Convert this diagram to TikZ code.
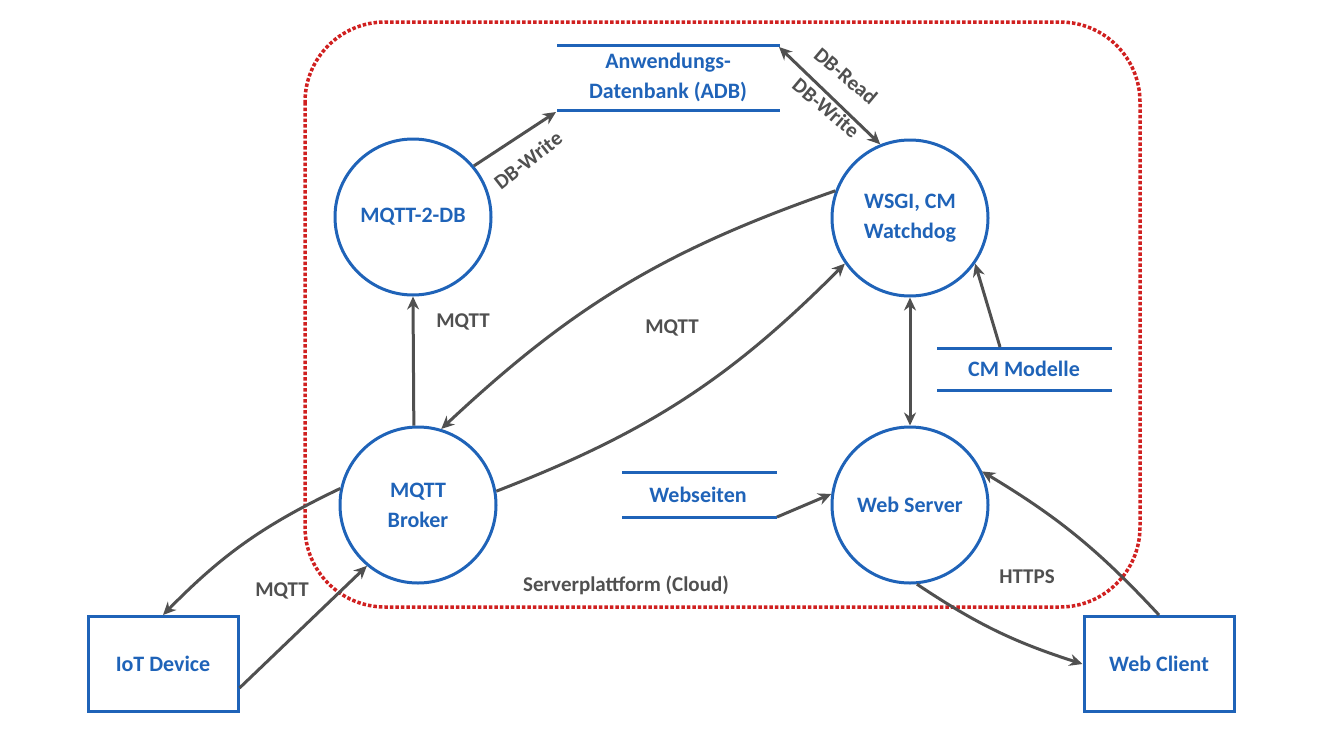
\documentclass[tikz,border=0pt]{standalone}
\usepackage{fontspec}
\setmainfont{Carlito}
\usetikzlibrary{arrows.meta}
\definecolor{bl}{HTML}{1F63B8}
\definecolor{gr}{HTML}{505050}
\definecolor{rd}{HTML}{D02020}
\begin{document}
\begin{tikzpicture}[x=1pt,y=-1pt,
  circ/.style={circle,draw=bl,line width=3pt,minimum size=156pt,inner sep=0pt,text=bl,font=\bfseries\fontsize{22}{30}\selectfont,align=center},
  rbox/.style={rectangle,draw=bl,line width=3pt,minimum width=150pt,minimum height=95pt,text=bl,font=\bfseries\fontsize{22}{26}\selectfont},
  store/.style={text=bl,font=\bfseries\fontsize{22}{30}\selectfont,align=center},
  sline/.style={draw=bl,line width=3pt},
  arr/.style={draw=gr,line width=3pt,-{Stealth[length=13pt,width=12pt]}},
  darr/.style={draw=gr,line width=3pt,{Stealth[length=13pt,width=12pt]}-{Stealth[length=13pt,width=12pt]}},
  lab/.style={text=gr,font=\bfseries\fontsize{21}{23}\selectfont}]
\useasboundingbox (0,0) rectangle (1320,742);
\draw[rd,line width=3.5pt,dotted,rounded corners=80pt] (305,22) rectangle (1140,607);
% stores
\draw[sline] (557,45) -- (780,45); \draw[sline] (557,110) -- (780,110);
\node[store] (adb) at (668,77) {Anwendungs-\\Datenbank (ADB)};
\draw[sline] (937,348) -- (1112,348); \draw[sline] (937,390) -- (1112,390);
\node[store] (cm) at (1024,369) {CM Modelle};
\draw[sline] (622,472) -- (777,472); \draw[sline] (622,517) -- (777,517);
\node[store] (ws) at (698,495) {Webseiten};
% nodes
\node[circ] (m2db) at (413,217) {MQTT-2-DB};
\node[circ] (wsgi) at (910,218) {WSGI, CM\\Watchdog};
\node[circ] (brk) at (418,505) {MQTT\\Broker};
\node[circ] (web) at (910,505) {Web Server};
\node[rbox] (iot) at (163,664) {IoT Device};
\node[rbox] (cli) at (1159,664) {Web Client};
\coordinate (adbbl) at (556,112);
\coordinate (adbtr) at (779,47);
\coordinate (cmt) at (1000,347);
\coordinate (wsr) at (777,517);
% arrows
\draw[arr] (m2db.40) -- (adbbl);
\draw[darr] (adbtr) -- (wsgi.112);
\draw[arr] (brk.93) -- (m2db.270);
\draw[arr] (wsgi.160) to[bend right=12] (brk.73);
\draw[arr] (brk.10) to[bend right=12] (wsgi.215);
\draw[darr] (wsgi.270) -- (web.90);
\draw[arr] (cmt) -- (wsgi.-35);
\draw[arr] (wsr) -- (web.172);
\draw[arr] (brk.168) to[bend right=10] (iot.north);
\draw[arr] (iot.east |- 0,688) -- (brk.230);
\draw[arr] (web.-85) to[bend right=8] (cli.west);
\draw[arr] (cli.north) to[bend right=8] (web.25);
% labels
\node[lab] at (463,322) {MQTT};
\node[lab] at (672,328) {MQTT};
\node[lab] at (282,591) {MQTT};
\node[lab] at (1027,577) {HTTPS};
\node[lab] at (626,585) {Serverplattform (Cloud)};
\node[lab,rotate=38] at (528,160) {DB-Write};
\node[lab,rotate=-40] at (846,76) {DB-Read};
\node[lab,rotate=-40] at (826,108) {DB-Write};
\end{tikzpicture}
\end{document}
